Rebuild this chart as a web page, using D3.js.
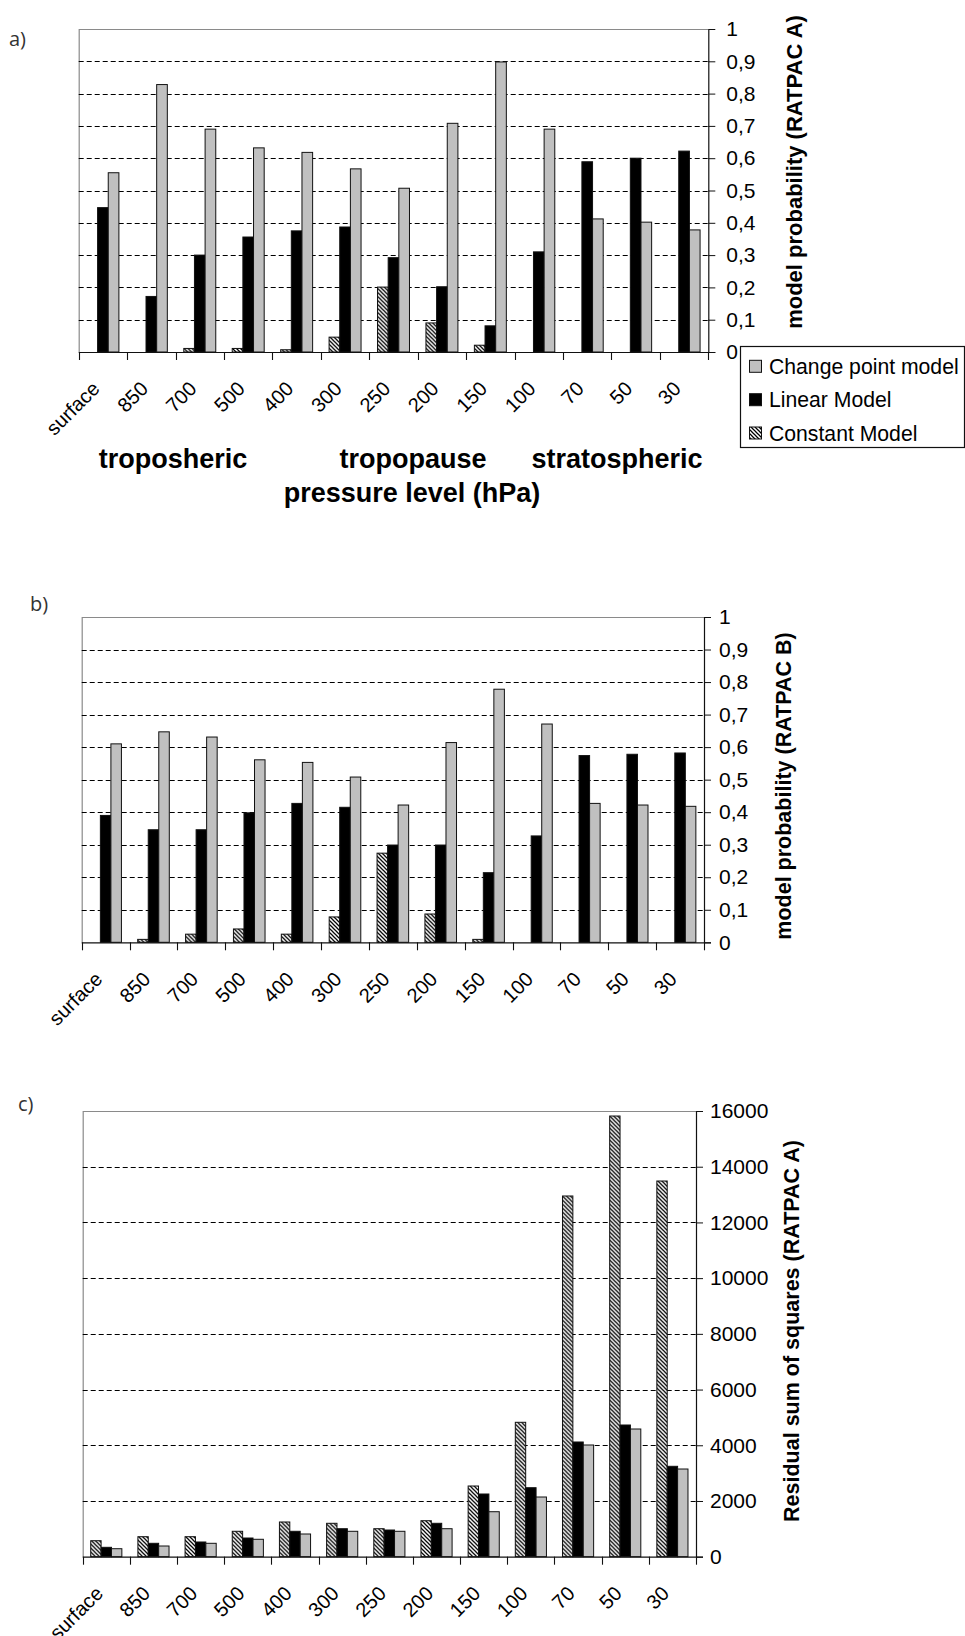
<!DOCTYPE html>
<html>
<head>
<meta charset="utf-8">
<script src="https://cdn.jsdelivr.net/npm/d3@7"></script>
<style>
  html, body { margin: 0; padding: 0; background: #fff; }
  svg { display: block; font-family: "Liberation Sans", Arial, sans-serif; }
</style>
</head>
<body>
<script>
// Pressure levels (hPa) on the category axis
const levels = ["surface", "850", "700", "500", "400", "300", "250", "200", "150", "100", "70", "50", "30"];

// Series drawn in each group, left to right
const seriesKeys = ["constant", "linear", "change"];
const legendLabels = ["Change point model", "Linear Model", "Constant Model"];

// a) model probability, RATPAC A
const changeA   = [0.555, 0.828, 0.690, 0.632, 0.618, 0.567, 0.507, 0.708, 0.898, 0.690, 0.412, 0.402, 0.378];
const linearA   = [0.447, 0.172, 0.300, 0.356, 0.375, 0.387, 0.292, 0.202, 0.081, 0.310, 0.589, 0.600, 0.622];
const constantA = [0, 0, 0.011, 0.011, 0.007, 0.046, 0.201, 0.090, 0.021, 0, 0, 0, 0];

// b) model probability, RATPAC B
const changeB   = [0.610, 0.647, 0.631, 0.561, 0.553, 0.508, 0.422, 0.614, 0.778, 0.671, 0.427, 0.422, 0.418];
const linearB   = [0.390, 0.346, 0.346, 0.398, 0.427, 0.415, 0.299, 0.299, 0.214, 0.327, 0.574, 0.578, 0.582];
const constantB = [0, 0.009, 0.025, 0.041, 0.025, 0.078, 0.274, 0.087, 0.009, 0, 0, 0, 0];

// c) residual sum of squares, RATPAC A
const rssChange   = [287, 384, 481, 625, 815, 912, 912, 1005, 1615, 2143, 4010, 4584, 3148];
const rssLinear   = [337, 481, 528, 671, 912, 1005, 958, 1199, 2251, 2477, 4118, 4728, 3245];
const rssConstant = [574, 718, 718, 912, 1246, 1199, 1005, 1292, 2538, 4825, 12949, 15820, 13487];

// Axis ticks
const probTicks = [0, 0.1, 0.2, 0.3, 0.4, 0.5, 0.6, 0.7, 0.8, 0.9, 1];
const rssTicks = [0, 2000, 4000, 6000, 8000, 10000, 12000, 14000, 16000];

// Layer titles under panel a
const layerLabels = ["troposheric", "tropopause", "stratospheric"];

const FONT = "'Liberation Sans', Arial, sans-serif";
const W = 965, H = 1636;
const svg = d3.select("body").append("svg").attr("width", W).attr("height", H)
  .attr("font-family", FONT);
svg.append("rect").attr("width", W).attr("height", H).attr("fill", "#fff");

const defs = svg.append("defs");
const hatch = defs.append("pattern")
  .attr("id", "hatch").attr("patternUnits", "userSpaceOnUse")
  .attr("width", 4).attr("height", 4);
hatch.append("rect").attr("width", 4).attr("height", 4).attr("fill", "#fff");
hatch.append("path").attr("d", "M-1,-1L5,5M-1,3L1,5M3,-1L5,1")
  .attr("stroke", "#000").attr("stroke-width", 1.25);

const fills = { change: "#c0c0c0", linear: "#000", constant: "url(#hatch)" };
const commaFmt = v => String(v).replace(".", ",");

function panel(cfg) {
  const g = svg.append("g");
  const x0 = d3.scaleBand().domain(levels).range([cfg.left, cfg.right]).padding(0);
  const bw = x0.bandwidth();
  const gap = bw * 0.17;
  const x1 = d3.scaleBand().domain(seriesKeys).range([gap, bw - gap]).padding(0);
  const y = d3.scaleLinear().domain([0, cfg.max]).range([cfg.bottom, cfg.top]);

  // frame: grey left and top edges
  g.append("path")
    .attr("d", `M${cfg.left + 0.5},${cfg.bottom}V${cfg.top + 0.5}H${cfg.right}`)
    .attr("fill", "none").attr("stroke", "#8a8a8a").attr("stroke-width", 1.2);

  // dashed gridlines
  g.selectAll(".grid").data(cfg.ticks.filter(t => t > 0 && t < cfg.max)).join("line")
    .attr("x1", cfg.left).attr("x2", cfg.right)
    .attr("y1", d => Math.round(y(d)) + 0.5).attr("y2", d => Math.round(y(d)) + 0.5)
    .attr("stroke", "#000").attr("stroke-width", 1.2).attr("stroke-dasharray", "5,3");

  // bars
  const rows = levels.map((lv, i) => ({
    level: lv,
    values: seriesKeys.map(k => ({ key: k, value: cfg.data[k][i] }))
  }));
  g.selectAll(".grp").data(rows).join("g")
    .attr("transform", d => `translate(${x0(d.level)},0)`)
    .selectAll("rect").data(d => d.values.filter(v => v.value > 0)).join("rect")
    .attr("x", d => x1(d.key))
    .attr("width", x1.bandwidth())
    .attr("y", d => y(d.value))
    .attr("height", d => cfg.bottom - y(d.value))
    .attr("fill", d => fills[d.key])
    .attr("stroke", "#111").attr("stroke-width", 1);

  // right value axis
  const ax = g.append("g").attr("transform", `translate(${cfg.right},0)`)
    .call(d3.axisRight(y).tickValues(cfg.ticks).tickFormat(cfg.fmt)
      .tickSize(7).tickSizeOuter(0).tickPadding(cfg.pad));
  ax.attr("font-family", FONT);
  ax.select(".domain").attr("stroke", "#111").attr("stroke-width", 1.2);
  ax.selectAll(".tick line").attr("stroke", "#111");
  ax.selectAll("text").attr("font-size", 21).attr("fill", "#000");

  // bottom category axis
  g.append("line").attr("x1", cfg.left).attr("x2", cfg.right + 7)
    .attr("y1", cfg.bottom + 0.5).attr("y2", cfg.bottom + 0.5)
    .attr("stroke", "#111").attr("stroke-width", 1.2);
  const edges = levels.map(l => x0(l)).concat([cfg.right]);
  g.selectAll(".ctick").data(edges).join("line")
    .attr("x1", d => Math.round(d) + 0.5).attr("x2", d => Math.round(d) + 0.5)
    .attr("y1", cfg.bottom).attr("y2", cfg.bottom + 8)
    .attr("stroke", "#111").attr("stroke-width", 1.1);
  g.selectAll(".clab").data(levels).join("text")
    .attr("transform", d => `translate(${x0(d) + bw / 2 - 2},${cfg.bottom + 38}) rotate(-45)`)
    .attr("text-anchor", "end")
    .attr("font-size", 20)
    .text(d => d);

  // value axis title
  g.append("text")
    .attr("transform", `translate(${cfg.titleX},${cfg.titleY}) rotate(-90)`)
    .attr("text-anchor", "middle").attr("font-weight", "bold")
    .attr("font-size", cfg.titleSize)
    .text(cfg.title);

  // panel letter
  g.append("text").attr("x", cfg.tagX).attr("y", cfg.tagY)
    .attr("font-family", "'Open Sans', 'DejaVu Sans', sans-serif")
    .attr("font-size", 20).attr("fill", "#333").text(cfg.tag);

  return { x0, y };
}

panel({
  left: 78.7, right: 708.3, top: 29, bottom: 352, max: 1,
  ticks: probTicks, fmt: commaFmt, pad: 11,
  data: { change: changeA, linear: linearA, constant: constantA },
  title: "model probability (RATPAC A)", titleX: 802, titleY: 172, titleSize: 22,
  tag: "a)", tagX: 9, tagY: 46
});

panel({
  left: 81.7, right: 704, top: 617, bottom: 942.3, max: 1,
  ticks: probTicks, fmt: commaFmt, pad: 8,
  data: { change: changeB, linear: linearB, constant: constantB },
  title: "model probability (RATPAC B)", titleX: 791, titleY: 786, titleSize: 21.5,
  tag: "b)", tagX: 30, tagY: 611
});

panel({
  left: 82.7, right: 696, top: 1111, bottom: 1556.7, max: 16000,
  ticks: rssTicks, fmt: d => String(d), pad: 7,
  data: { change: rssChange, linear: rssLinear, constant: rssConstant },
  title: "Residual sum of squares (RATPAC A)", titleX: 799, titleY: 1331, titleSize: 21.5,
  tag: "c)", tagX: 18, tagY: 1111
});

// atmospheric layer titles and axis name under panel a
const layerX = [173, 413, 617];
svg.selectAll(".layer").data(layerLabels).join("text")
  .attr("x", (d, i) => layerX[i]).attr("y", 468)
  .attr("text-anchor", "middle").attr("font-weight", "bold").attr("font-size", 27)
  .text(d => d);
svg.append("text").attr("x", 412).attr("y", 501.5)
  .attr("text-anchor", "middle").attr("font-weight", "bold").attr("font-size", 27)
  .text("pressure level (hPa)");

// legend for panel a
const legend = svg.append("g");
legend.append("rect").attr("x", 740.5).attr("y", 346.5).attr("width", 224).attr("height", 101)
  .attr("fill", "#fff").attr("stroke", "#111").attr("stroke-width", 1.2);
const legendKeys = ["change", "linear", "constant"];
const legendY = [366.3, 399.7, 433];
legendKeys.forEach((k, i) => {
  legend.append("rect").attr("x", 749.5).attr("y", legendY[i] - 6).attr("width", 12).attr("height", 12)
    .attr("fill", fills[k]).attr("stroke", "#111").attr("stroke-width", 1);
  legend.append("text").attr("x", 769).attr("y", legendY[i] + 7.6)
    .attr("font-size", 21.2).text(legendLabels[i]);
});
</script>
</body>
</html>
